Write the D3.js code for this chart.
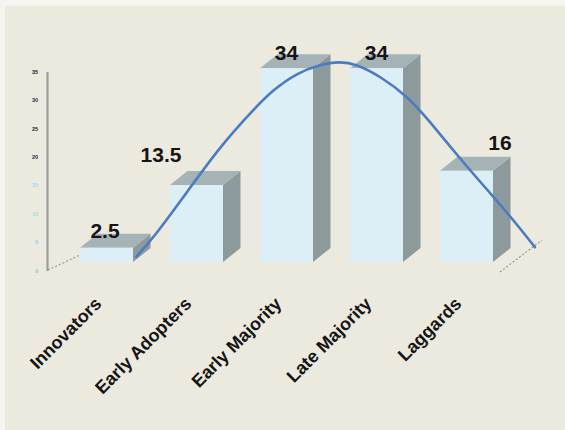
<!DOCTYPE html>
<html>
<head>
<meta charset="utf-8">
<script src="https://cdn.jsdelivr.net/npm/d3@7/dist/d3.min.js"></script>
<style>
  html, body { margin: 0; padding: 0; background: #ECE9DF; }
  svg { display: block; }
</style>
</head>
<body>
<script>
// ---- data ----
const categories = ["Innovators", "Early Adopters", "Early Majority", "Late Majority", "Laggards"];
const values = [2.5, 13.5, 34, 34, 16];
const valueLabels = ["2.5", "13.5", "34", "34", "16"];
const axisTicks = [0, 5, 10, 15, 20, 25, 30, 35];
// bell curve overlay, x in category-index units, y in value units
const curveX = [0.33, 0.52, 0.91, 1.26, 1.63, 1.85, 2.12, 2.37, 2.59, 2.78, 3.04, 3.34, 3.56, 3.96, 4.28, 4.54, 4.76];
const curveY = [0.9, 4.2, 12.6, 20.2, 26.7, 30.2, 33.2, 34.6, 35.2, 34.7, 32.6, 29.1, 25.3, 17.5, 11.8, 7.0, 2.6];

// ---- layout constants ----
const W = 565, H = 430;
const depthX = 17.5, depthY = 14;
const labelDx = [-1.5, -35.5, 0, 0, 33.5];
const labelDy = [-9.5, -23, -8, -8, -21];
const tickColors = ["#7fc9dc", "#8fd0e0", "#a6dbe8", "#9fd6e4", "#2a2a44", "#1c1c30", "#2a3350", "#1c1c30"];

const svg = d3.select("body").append("svg").attr("width", W).attr("height", H);

// frame
svg.append("rect").attr("width", W).attr("height", H).attr("fill", "#F5F4EF");
svg.append("rect").attr("x", 5).attr("y", 6).attr("width", W - 5).attr("height", H - 6).attr("fill", "#ECE9DF");

// scales
const x = d3.scaleBand().domain(categories).range([61.5, 511.5]).paddingInner(0.411).paddingOuter(0.2055);
const bw = x.bandwidth();
const y = d3.scaleLinear().domain([0, 35]).range([262, 62.5]);
const yBack = d3.scaleLinear().domain([0, 35]).range([270.5, 71.5]);
const xc = d3.scaleLinear().domain([0, categories.length - 1])
  .range([x(categories[0]) + bw / 2, x(categories[categories.length - 1]) + bw / 2]);

// floor edges (dotted)
svg.append("line").attr("x1", 48).attr("y1", 270).attr("x2", 80).attr("y2", 255)
  .attr("stroke", "#9a9a9a").attr("stroke-width", 1.2).attr("stroke-dasharray", "2,2");
svg.append("line").attr("x1", 500).attr("y1", 272).attr("x2", 542).attr("y2", 240)
  .attr("stroke", "#9a9a9a").attr("stroke-width", 1.2).attr("stroke-dasharray", "2,2");

// vertical axis
const yAxis = d3.axisLeft(yBack).tickValues(axisTicks).tickSize(0).tickPadding(9);
const ag = svg.append("g").attr("transform", "translate(47,0)").call(yAxis);
ag.select(".domain").attr("stroke", "#9c9c9c").attr("stroke-width", 2.2);
ag.selectAll(".tick text")
  .attr("font-family", "Liberation Sans, Arial, sans-serif")
  .attr("font-size", 5.5).attr("font-weight", "bold")
  .attr("fill", (d, i) => tickColors[i]);

// bars
const bars = svg.append("g").selectAll("g").data(values).join("g");
bars.append("path") // side face
  .attr("fill", "#8D9A9C")
  .attr("d", (d, i) => {
    const x0 = x(categories[i]) + bw, t = y(d), b = y(0);
    return `M${x0},${t}L${x0 + depthX},${t - depthY}L${x0 + depthX},${b - depthY}L${x0},${b}Z`;
  });
bars.append("path") // top face
  .attr("fill", "#A5B3B6")
  .attr("d", (d, i) => {
    const x0 = x(categories[i]), t = y(d);
    return `M${x0},${t}L${x0 + depthX},${t - depthY}L${x0 + bw + depthX},${t - depthY}L${x0 + bw},${t}Z`;
  });
bars.append("rect") // front face
  .attr("fill", "#DCEEF6")
  .attr("x", (d, i) => x(categories[i]))
  .attr("y", d => y(d))
  .attr("width", bw)
  .attr("height", d => y(0) - y(d));

// value labels
svg.append("g").selectAll("text").data(values).join("text")
  .attr("x", (d, i) => x(categories[i]) + bw / 2 + labelDx[i])
  .attr("y", (d, i) => y(d) + labelDy[i])
  .attr("text-anchor", "middle")
  .attr("font-family", "Liberation Sans, Arial, sans-serif")
  .attr("font-weight", "bold")
  .attr("font-size", 21)
  .attr("fill", "#151515")
  .text((d, i) => valueLabels[i]);

// curve
const pts = curveX.map((v, i) => [v, curveY[i]]);
const line = d3.line().x(d => xc(d[0])).y(d => y(d[1])).curve(d3.curveBasis);
svg.append("path").datum(pts).attr("d", line)
  .attr("fill", "none").attr("stroke", "#4A7CC0").attr("stroke-width", 2.6)
  .attr("stroke-linecap", "round");

// category labels
svg.append("g").selectAll("text").data(categories).join("text")
  .attr("transform", (d, i) => `translate(${x(d) + bw / 2 - 4},305) rotate(-45)`)
  .attr("text-anchor", "end")
  .attr("font-family", "Liberation Sans, Arial, sans-serif")
  .attr("font-weight", "bold")
  .attr("font-size", 18)
  .attr("fill", "#151515")
  .text(d => d);
</script>
</body>
</html>
